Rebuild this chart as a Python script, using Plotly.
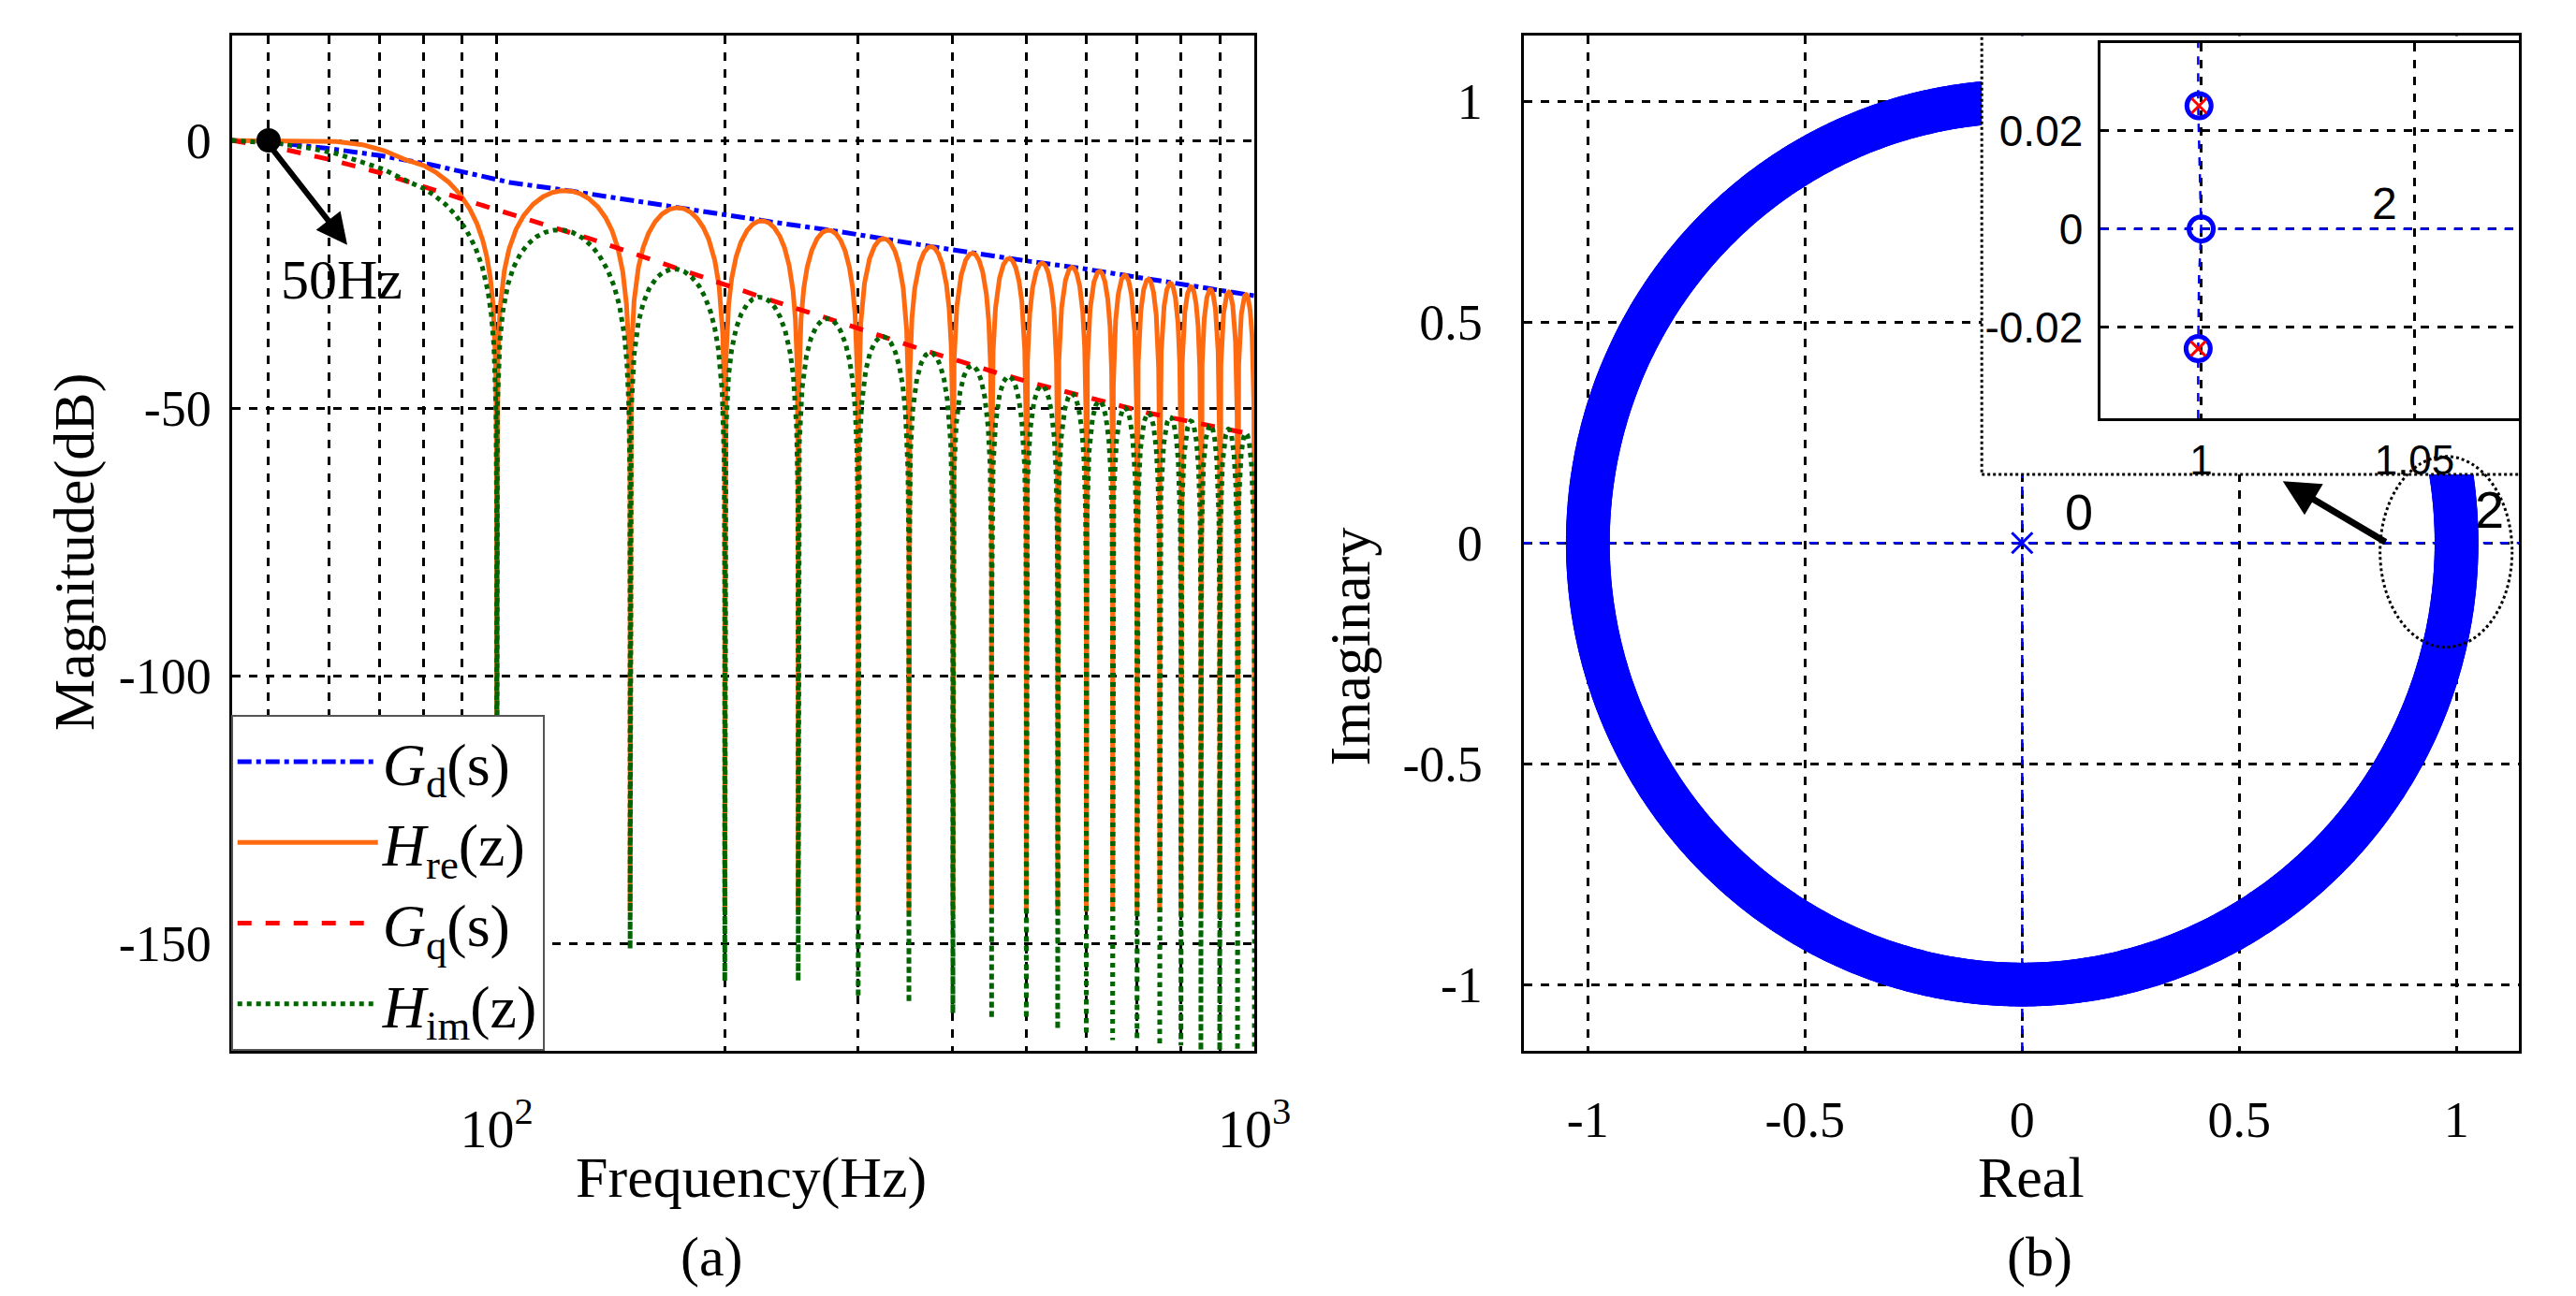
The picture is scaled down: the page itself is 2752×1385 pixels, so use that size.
import numpy as np
import plotly.graph_objects as go

# ---------------- data ----------------
gd_f = [44.7, 50, 60, 70, 80, 100, 150, 200, 300, 400, 500, 600, 700, 800, 1000]
gd_db = [0, -0.3, -1.5, -2.8, -4.2, -7.5, -11, -14, -17.5, -20.5, -22.5, -24, -25.5, -27, -29]

gq_f = [44.7, 50, 60, 70, 80, 100, 125, 150, 200, 250, 300, 400, 500, 600, 700, 800, 900, 1000]
gq_db = [0, -1, -3.5, -6, -8.5, -13, -17, -21, -27, -31.5, -35, -41, -45, -48, -50.5, -52, -53.5, -55]

# pre-75 Hz envelope of the comb curves (read), afterwards they follow Gd / Gq
hre_pre_f = [44.7, 50, 60, 65, 70, 75]
hre_pre_db = [0, 0, -0.1, -0.5, -1.5, -3.5]
him_pre_f = [44.7, 50, 60, 70, 75]
him_pre_db = [0, -0.3, -2.0, -5.0, -7.3]

notch_f = [100, 150, 200, 250, 300, 350, 400, 450, 500, 550, 600, 650, 700, 750, 800, 850, 900, 950, 1000]
hre_notch_db = [-145, -144, -144, -144, -144, -144, -144, -144, -144, -144, -144, -144, -144, -144, -144, -144, -144, -144, -144]
him_notch_db = [-150, -151, -157, -157, -160, -161, -163, -164, -164, -166, -167, -168, -168, -169, -169, -170, -170, -170, -170]

minor_f = [50, 60, 70, 80, 90, 200, 300, 400, 500, 600, 700, 800, 900]

# pole-zero map
n_zeros = 900
pole_x, pole_y = [0.0], [0.0]
inset_zero_x = [0.9995, 1.0, 0.9993]
inset_zero_y = [0.0251, 0.0, -0.0244]
inset_pole_x = [0.9995, 0.9993]
inset_pole_y = [0.0251, -0.0244]

# ---------------- build curves ----------------
f = np.unique(np.concatenate([np.logspace(np.log10(44.7), 3, 30000), notch_f]))
lf = np.log10(f)
gd_i = np.interp(lf, np.log10(gd_f), gd_db)
gq_i = np.interp(lf, np.log10(gq_f), gq_db)

def comb(env_pre_f, env_pre_db, env_post, depths):
    env = np.where(f < 75, np.interp(lf, np.log10(env_pre_f), env_pre_db), env_post)
    s = np.abs(np.sin(np.pi * f / 50.0))
    s = np.where(f < 75, 1.0, s)
    dep = np.interp(f, notch_f, depths)
    att = 20 * np.log10(np.maximum(s, 1e-12))
    return env + np.maximum(att, dep - env)

hre = comb(hre_pre_f, hre_pre_db, gd_i, hre_notch_db)
him = comb(him_pre_f, him_pre_db, gq_i, him_notch_db)

serif = "Liberation Serif"
sans = "Liberation Sans"

fig = go.Figure()
fig.add_trace(go.Scatter(x=f, y=gd_i, mode="lines", name="<i>G</i><sub>d</sub>(s)",
                         line=dict(color="#0000FF", width=5, dash="dashdot"), xaxis="x", yaxis="y"))
fig.add_trace(go.Scatter(x=f, y=hre, mode="lines", name="<i>H</i><sub>re</sub>(z)",
                         line=dict(color="#FF6A10", width=5), xaxis="x", yaxis="y"))
fig.add_trace(go.Scatter(x=f, y=gq_i, mode="lines", name="<i>G</i><sub>q</sub>(s)",
                         line=dict(color="#FF0000", width=5, dash="dash"), xaxis="x", yaxis="y"))
fig.add_trace(go.Scatter(x=f, y=him, mode="lines", name="<i>H</i><sub>im</sub>(z)",
                         line=dict(color="#006400", width=5, dash="dot"), xaxis="x", yaxis="y"))
fig.add_trace(go.Scatter(x=[50], y=[0], mode="markers", marker=dict(color="black", size=26),
                         showlegend=False, xaxis="x", yaxis="y"))

# right: pole-zero map
ang = 2 * np.pi * np.arange(n_zeros) / n_zeros
fig.add_trace(go.Scatter(x=[-1.15, 1.15], y=[0, 0], mode="lines", line=dict(color="#0000FF", width=2.5, dash="dash"),
                         showlegend=False, xaxis="x2", yaxis="y2"))
fig.add_trace(go.Scatter(x=[0, 0], y=[-1.15, 1.15], mode="lines", line=dict(color="#0000FF", width=2.5, dash="dash"),
                         showlegend=False, xaxis="x2", yaxis="y2"))
fig.add_trace(go.Scatter(x=np.cos(ang), y=np.sin(ang), mode="markers",
                         marker=dict(symbol="circle-open", color="#0000FF", size=40, line=dict(width=7)),
                         showlegend=False, xaxis="x2", yaxis="y2"))
fig.add_trace(go.Scatter(x=pole_x, y=pole_y, mode="markers",
                         marker=dict(symbol="x-thin-open", color="#0000FF", size=22, line=dict(width=3)),
                         showlegend=False, xaxis="x2", yaxis="y2"))
# white inset box with dotted border
fig.add_trace(go.Scatter(x=[-0.093, 1.16, 1.16, -0.093, -0.093], y=[0.155, 0.155, 1.16, 1.16, 0.155],
                         mode="lines", fill="toself", fillcolor="white",
                         line=dict(color="black", width=3, dash="dot"),
                         showlegend=False, xaxis="x2", yaxis="y2"))

# inset
fig.add_trace(go.Scatter(x=[0.9763, 1.0745], y=[0, 0], mode="lines", line=dict(color="#0000FF", width=2.5, dash="dash"),
                         showlegend=False, xaxis="x3", yaxis="y3"))
fig.add_trace(go.Scatter(x=[0.9993, 0.9993, 0.9995, 1.0, 0.9993, 0.9993], y=[-0.0386, -0.0244, -0.01, 0.0, 0.0251, 0.0379],
                         mode="lines", line=dict(color="#0000FF", width=2.5, dash="dash"),
                         showlegend=False, xaxis="x3", yaxis="y3"))
fig.add_trace(go.Scatter(x=inset_zero_x, y=inset_zero_y, mode="markers",
                         marker=dict(symbol="circle-open", color="#0000FF", size=26, line=dict(width=5)),
                         showlegend=False, xaxis="x3", yaxis="y3"))
fig.add_trace(go.Scatter(x=inset_pole_x, y=inset_pole_y, mode="markers",
                         marker=dict(symbol="x-thin-open", color="#FF0000", size=16, line=dict(width=3)),
                         showlegend=False, xaxis="x3", yaxis="y3"))

grid = dict(showgrid=True, gridcolor="black", griddash="dash", gridwidth=2.5, zeroline=False,
            showline=True, linecolor="black", linewidth=3, mirror=True, ticks="")

fig.update_layout(
    width=2752, height=1385, margin=dict(l=0, r=0, t=0, b=0),
    paper_bgcolor="white", plot_bgcolor="white",
    font=dict(family=serif, size=56, color="black"),
    xaxis=dict(type="log", domain=[0.0883, 0.491], range=[np.log10(44.7), 3], anchor="y",
               tickvals=[100, 1000], ticktext=["10<sup>2</sup>", "10<sup>3</sup>"],
               tickfont=dict(family=serif, size=58), ticklabelstandoff=30,
               minor=dict(tickvals=minor_f, showgrid=True, gridcolor="black", griddash="dash", gridwidth=2.5, ticks=""),
               **grid),
    yaxis=dict(domain=[0.195, 0.978], range=[-170, 19.5], anchor="x",
               tickvals=[0, -50, -100, -150], ticktext=["0", "-50", "-100", "-150"],
               tickfont=dict(family=serif, size=54), ticklabelstandoff=8, **grid),
    xaxis2=dict(domain=[0.597, 0.989], range=[-1.148, 1.144], anchor="y2",
                tickvals=[-1, -0.5, 0, 0.5, 1], ticktext=["-1", "-0.5", "0", "0.5", "1"],
                tickfont=dict(family=serif, size=54), ticklabelstandoff=24, **grid),
    yaxis2=dict(domain=[0.195, 0.978], range=[-1.15, 1.148], anchor="x2",
                tickvals=[-1, -0.5, 0, 0.5, 1], ticktext=["-1", "-0.5", "0", "0.5", "1"],
                tickfont=dict(family=serif, size=54), ticklabelstandoff=30, **grid),
    xaxis3=dict(domain=[0.824, 0.989], range=[0.9763, 1.0745], anchor="y3",
                tickvals=[1, 1.05], ticktext=["1", "1.05"],
                tickfont=dict(family=sans, size=44), ticklabelstandoff=4, **grid),
    yaxis3=dict(domain=[0.683, 0.9726], range=[-0.0386, 0.0379], anchor="x3",
                tickvals=[-0.02, 0, 0.02], ticktext=["-0.02", "0", "0.02"],
                tickfont=dict(family=sans, size=46), ticklabelstandoff=6, **grid),
    legend=dict(x=0.088, y=0.195, xanchor="left", yanchor="bottom", bgcolor="white",
                bordercolor="#555555", borderwidth=2, font=dict(family=serif, size=64),
                itemwidth=150),
)

ann = [
    dict(text="Magnitude(dB)", x=72 / 2752, y=1 - 582 / 1385, xref="paper", yref="paper", textangle=-90,
         showarrow=False, font=dict(size=62)),
    dict(text="Frequency(Hz)", x=806 / 2752, y=1 - 1250 / 1385, xref="paper", yref="paper",
         showarrow=False, font=dict(size=62)),
    dict(text="(a)", x=763 / 2752, y=1 - 1335 / 1385, xref="paper", yref="paper", showarrow=False, font=dict(size=60)),
    dict(text="Imaginary", x=1455 / 2752, y=1 - 683 / 1385, xref="paper", yref="paper", textangle=-90,
         showarrow=False, font=dict(size=62)),
    dict(text="Real", x=2193 / 2752, y=1 - 1250 / 1385, xref="paper", yref="paper", showarrow=False, font=dict(size=62)),
    dict(text="(b)", x=2202 / 2752, y=1 - 1335 / 1385, xref="paper", yref="paper", showarrow=False, font=dict(size=60)),
    dict(text="50Hz", x=np.log10(62.4), y=-26, xref="x", yref="y", showarrow=False, font=dict(size=60)),
    dict(x=np.log10(63.5), y=-19.5, ax=np.log10(50.3), ay=-1.2, xref="x", yref="y", axref="x", ayref="y",
         text="", showarrow=True, arrowhead=2, arrowsize=1.1, arrowwidth=6, arrowcolor="black"),
    dict(text="0", x=0.13, y=0.07, xref="x2", yref="y2", showarrow=False, font=dict(family=sans, size=54)),
    dict(text="2", x=1.075, y=0.075, xref="x2", yref="y2", showarrow=False, font=dict(family=sans, size=56)),
    dict(x=0.6, y=0.14, ax=0.84, ay=0.0, xref="x2", yref="y2", axref="x2", ayref="y2",
         text="", showarrow=True, arrowhead=2, arrowsize=1.1, arrowwidth=7, arrowcolor="black"),
    dict(text="2", x=1.043, y=0.0051, xref="x3", yref="y3", showarrow=False, font=dict(family=sans, size=48)),
]
for a in ann:
    a.setdefault("xanchor", "center")
    a.setdefault("yanchor", "middle")
fig.update_layout(annotations=ann)
fig.add_shape(type="circle", xref="x2", yref="y2", x0=0.976 - 0.152, x1=0.976 + 0.152, y0=-0.02 - 0.216,
              y1=-0.02 + 0.216, line=dict(color="black", width=3, dash="dot"))

fig.write_html("out.html")
